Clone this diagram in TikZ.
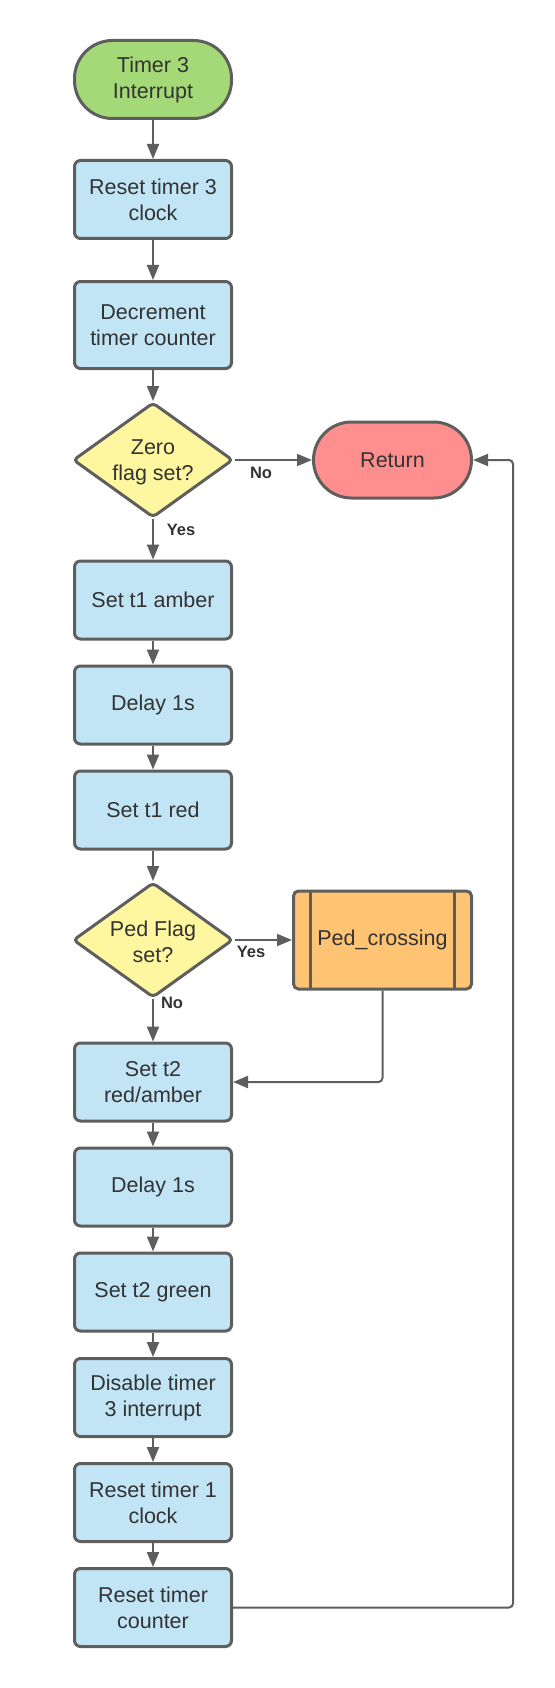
\documentclass[tikz,border=0pt]{standalone}
\usepackage{fontspec}
\setmainfont{Liberation Sans}
\usetikzlibrary{shapes.geometric,arrows.meta}
\definecolor{ln}{HTML}{5E5E5E}
\definecolor{txt}{HTML}{333333}
\definecolor{blueF}{HTML}{C2E5F6}
\definecolor{greenF}{HTML}{A4D977}
\definecolor{yellowF}{HTML}{FFF7A0}
\definecolor{redF}{HTML}{FF8E8E}
\definecolor{orangeF}{HTML}{FFC374}
\tikzset{
  base/.style={draw=ln, line width=3pt, text=txt, inner sep=0pt, align=center,
    font=\fontsize{21.5}{26}\selectfont},
  proc/.style={base, fill=blueF, rounded corners=6pt, minimum width=157pt, minimum height=78pt},
  term/.style={base, rounded corners=38pt, minimum width=157pt, minimum height=78pt},
  decis/.style={base, shape=diamond, fill=yellowF, rounded corners=4pt, minimum width=160pt, minimum height=115pt},
  dtext/.style={text=txt, align=center, font=\fontsize{21.5}{26}\selectfont, inner sep=0pt},
  lbl/.style={text=txt, font=\fontsize{16.5}{19}\selectfont\bfseries, inner sep=0pt},
  arr/.style={draw=ln, line width=2pt, -{Triangle[length=15pt,width=12pt]}},
}
\begin{document}
\begin{tikzpicture}[x=1pt,y=-1pt]
\useasboundingbox (0,0) rectangle (554,1688);
\node[term, fill=greenF] (start) at (153,79.5) {Timer 3\\Interrupt};
\node[proc] (r3) at (153,199.5) {Reset timer 3\\clock};
\node[proc, minimum height=87pt] (dec) at (153,325) {Decrement\\timer counter};
\node[decis] (zero) at (153,460) {};
\node[dtext] (zerot) at (153,462) {Zero\\flag set?};
\node[term, fill=redF, minimum width=158pt, minimum height=76pt] (ret) at (392.5,460) {Return};
\node[proc] (amb) at (153,600) {Set t1 amber};
\node[proc] (d1) at (153,705) {Delay 1s};
\node[proc] (red) at (153,810) {Set t1 red};
\node[decis] (ped) at (153,940) {};
\node[dtext] (pedt) at (153,942) {Ped Flag\\set?};
\node[base, fill=orangeF, rounded corners=5pt, minimum width=178pt, minimum height=98pt,
  path picture={
    \draw[ln, line width=3pt] ([xshift=17pt]path picture bounding box.north west) -- ([xshift=17pt]path picture bounding box.south west);
    \draw[ln, line width=3pt] ([xshift=-17pt]path picture bounding box.north east) -- ([xshift=-17pt]path picture bounding box.south east);
  }] (pc) at (382.5,940) {Ped\_crossing};
\node[proc] (t2ra) at (153,1082) {Set t2\\red/amber};
\node[proc] (d2) at (153,1187) {Delay 1s};
\node[proc] (grn) at (153,1292) {Set t2 green};
\node[proc] (dis) at (153,1397.5) {Disable timer\\3 interrupt};
\node[proc] (r1) at (153,1502.5) {Reset timer 1\\clock};
\node[proc] (rcnt) at (153,1607.5) {Reset timer\\counter};
\coordinate (loopx) at (513,1000);

\node[lbl] (no1) at (261,473) {No};
\node[lbl] (yes1) at (181,530) {Yes};
\node[lbl] (yes2) at (251,952) {Yes};
\node[lbl] (no2) at (172,1003) {No};

\draw[arr] (start) -- (r3);
\draw[arr] (r3) -- (dec);
\draw[arr] (dec) -- (zero);
\draw[arr] (zero) -- (ret);
\draw[arr] (zero) -- (amb);
\draw[arr] (amb) -- (d1);
\draw[arr] (d1) -- (red);
\draw[arr] (red) -- (ped);
\draw[arr] (ped) -- (pc);
\draw[arr] (ped) -- (t2ra);
\draw[arr, rounded corners=4pt] (pc.south) |- (t2ra.east);
\draw[arr] (t2ra) -- (d2);
\draw[arr] (d2) -- (grn);
\draw[arr] (grn) -- (dis);
\draw[arr] (dis) -- (r1);
\draw[arr] (r1) -- (rcnt);
\draw[arr, rounded corners=4pt] (rcnt.east) -- (rcnt.east -| loopx) |- (ret.east);
\end{tikzpicture}
\end{document}
